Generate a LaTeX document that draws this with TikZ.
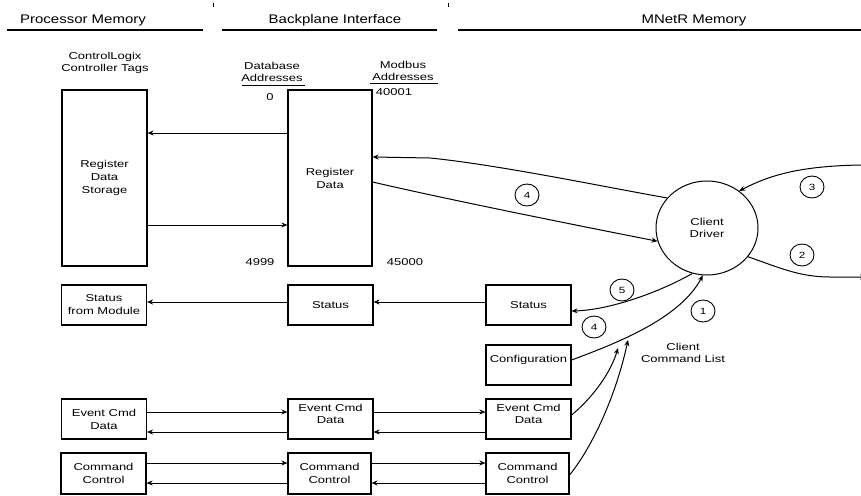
\documentclass[tikz,border=0pt]{standalone}
\usepackage{fontspec}
\setmainfont{Liberation Sans}
\newfontfamily\hdrfont[FakeStretch=1.2]{Liberation Sans}
\newfontfamily\lblfont[FakeStretch=1.3]{Liberation Sans}
\usetikzlibrary{shapes.geometric,arrows.meta}
\begin{document}
\begin{tikzpicture}[x=1pt,y=-1pt,
  box/.style={draw,line width=1.1pt,inner sep=0pt,minimum width=85pt,minimum height=40pt,align=center,font=\lblfont\fontsize{10}{13}\selectfont},
  lbl/.style={inner sep=0pt,align=center,font=\lblfont\fontsize{10}{12}\selectfont},
  hdr/.style={inner sep=0pt,font=\hdrfont\fontsize{12.5}{14}\selectfont},
  num/.style={draw,ellipse,line width=0.9pt,minimum width=24pt,minimum height=22pt,inner sep=0pt,font=\lblfont\fontsize{9}{10}\selectfont},
  conn/.style={line width=1pt},
  arr/.style={line width=1pt,-{Stealth[length=6pt,width=5pt]}},
  hline/.style={line width=1.6pt}
]
\useasboundingbox (0,0) rectangle (861,495);
\clip (0,0) rectangle (861,495);

% headers
\node[hdr] (h1) at (83,20) {Processor Memory};
\node[hdr] (h2) at (335,20) {Backplane Interface};
\node[hdr] (h3) at (694,20) {MNetR Memory};
\draw[hline] (7,30) -- (203,30);
\draw[hline] (222,30) -- (437,30);
\draw[hline] (458,30) -- (861,30);
\draw[line width=1pt] (213,3) -- (213,7);
\draw[line width=1pt] (448,3) -- (448,7);

% column labels
\node[lbl] (clx) at (105,63) {ControlLogix\\Controller Tags};
\node[lbl] (dba) at (272,72) {Database\\Addresses};
\node[lbl] (mba) at (403,71) {Modbus\\Addresses};
\draw[line width=1pt] (242,85) -- (305,85);
\draw[line width=1pt] (370,83) -- (438,83);
\node[lbl] (a0) at (270,97) {0};
\node[lbl] (a1) at (394,92) {40001};
\node[lbl] (a2) at (260,262) {4999};
\node[lbl] (a3) at (405,262) {45000};

% big boxes
\node[box,minimum width=85pt,minimum height=176pt] (stor) at (104.5,178) {Register\\Data\\Storage};
\node[box,minimum width=84pt,minimum height=176pt] (reg) at (330,178) {Register\\Data};
\draw[arr] (reg.west |- 0,133) -- (stor.east |- 0,133);
\draw[arr] (stor.east |- 0,225) -- (reg.west |- 0,225);

% status row
\node[box] (stf) at (104,305) {Status\\from Module};
\node[box] (stb) at (330.5,305) {Status};
\node[box] (stm) at (528.5,305) {Status};
\draw[arr] (stb.west |- 0,302) -- (stf.east |- 0,302);
\draw[arr] (stm.west |- 0,302) -- (stb.east |- 0,302);

% configuration
\node[box] (cfg) at (528.5,365) {};
\node[lbl] (cfgt) at (528.5,360) {Configuration};

% event cmd row
\node[box] (evl) at (104,419) {Event Cmd\\Data};
\node[box] (evm) at (330.5,419) {};
\node[lbl] (evmt) at (330.5,414) {Event Cmd\\Data};
\node[box] (evr) at (528.5,419) {};
\node[lbl] (evrt) at (528.5,414) {Event Cmd\\Data};
\draw[arr] (evl.east |- 0,412) -- (evm.west |- 0,412);
\draw[arr] (evm.west |- 0,432) -- (evl.east |- 0,432);
\draw[arr] (evm.east |- 0,412) -- (evr.west |- 0,412);
\draw[arr] (evr.west |- 0,432) -- (evm.east |- 0,432);

% command control row
\node[box,minimum height=41pt] (cml) at (103.5,473.5) {Command\\Control};
\node[box,minimum width=83pt,minimum height=41pt] (cmm) at (329.5,473.5) {Command\\Control};
\node[box,minimum width=83pt,minimum height=41pt] (cmr) at (527.5,473.5) {Command\\Control};
\draw[arr] (cml.east |- 0,463) -- (cmm.west |- 0,463);
\draw[arr] (cmm.west |- 0,483) -- (cml.east |- 0,483);
\draw[arr] (cmm.east |- 0,463) -- (cmr.west |- 0,463);
\draw[arr] (cmr.west |- 0,483) -- (cmm.east |- 0,483);

% client driver
\node[draw,ellipse,line width=1pt,minimum width=102pt,minimum height=94pt,inner sep=0pt,lbl] (drv) at (707,228) {Client\\Driver};

% top connectors
\draw[arr] (drv.143) .. controls (610,188) and (500,165) .. (430,158) -- (reg.east |- 0,157);
\draw[arr] (reg.east |- 0,182) .. controls (450,200) and (580,226) .. (drv.195);
\coordinate (r3) at (861,165);
\coordinate (r2) at (866,277);
\draw[arr] (r3) .. controls (800,166) and (770,175) .. (drv.49);
\draw[arr] (drv.325) .. controls (780,268) and (800,277) .. (830,277) -- (r2);

% lower connectors
\draw[arr] (drv.252) .. controls (660,292) and (610,310) .. (stm.east |- 0,311);
\draw[arr] (cfg.east |- 0,360) .. controls (620,342) and (680,318) .. (drv.265);
\coordinate (m1) at (618,348);
\coordinate (m2) at (628,340);
\draw[arr] (evr.east |- 0,415) .. controls (590,400) and (610,375) .. (m1);
\draw[arr] (cmr.east |- 0,475) .. controls (590,450) and (615,400) .. (m2);
\node[lbl] (ccl) at (683,353) {Client\\Command List};

% step numbers
\node[num] (n4a) at (527,195) {4};
\node[num] (n3) at (812,187) {3};
\node[num] (n2) at (802,255) {2};
\node[num] (n5) at (622,290) {5};
\node[num] (n4b) at (594,327) {4};
\node[num] (n1) at (703,311) {1};
\end{tikzpicture}
\end{document}
